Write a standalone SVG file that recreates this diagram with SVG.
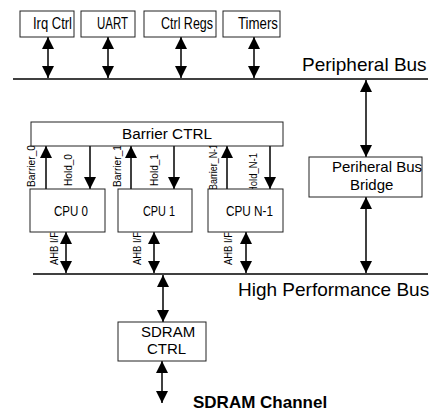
<svg xmlns="http://www.w3.org/2000/svg" width="434" height="413" viewBox="0 0 434 413">
<style>
.box{fill:#fff;stroke:#222;stroke-width:1}
.t{font-family:"Liberation Sans",Arial,sans-serif;fill:#000}
.bus{stroke:#000;stroke-width:1.5;fill:none}
.ar{stroke:#000;stroke-width:1.5;fill:none}
.da{marker-start:url(#ah);marker-end:url(#ah)}
.ea{marker-end:url(#ah)}
</style>
<defs>
<marker id="ah" markerUnits="userSpaceOnUse" markerWidth="12" markerHeight="12" refX="12" refY="6" orient="auto-start-reverse">
<path d="M0,0 L12,6 L0,12 z" fill="#000"/>
</marker>
</defs>
<rect width="434" height="413" fill="#fff"/>
<g id="connectors">
<line class="bus" x1="13" y1="79" x2="428" y2="79"/>
<line class="bus" x1="33" y1="274" x2="428" y2="274"/>
<line class="ar da" x1="48" y1="37" x2="48" y2="78"/>
<line class="ar da" x1="108" y1="37" x2="108" y2="78"/>
<line class="ar da" x1="181" y1="37" x2="181" y2="78"/>
<line class="ar da" x1="254" y1="37" x2="254" y2="78"/>
<line class="ar da" x1="366" y1="80" x2="366" y2="157"/>
<line class="ar da" x1="366" y1="197" x2="366" y2="273"/>
<line class="ar ea" x1="46" y1="189" x2="46" y2="146"/>
<line class="ar ea" x1="90" y1="146" x2="90" y2="189"/>
<line class="ar ea" x1="131" y1="189" x2="131" y2="146"/>
<line class="ar ea" x1="174" y1="146" x2="174" y2="189"/>
<line class="ar ea" x1="227" y1="189" x2="227" y2="146"/>
<line class="ar ea" x1="270" y1="146" x2="270" y2="189"/>
<line class="ar da" x1="66" y1="232" x2="66" y2="273"/>
<line class="ar da" x1="154" y1="232" x2="154" y2="273"/>
<line class="ar da" x1="246" y1="232" x2="246" y2="273"/>
<line class="ar da" x1="163" y1="275" x2="163" y2="322"/>
<line class="ar da" x1="162" y1="361" x2="162" y2="403"/>
<text class="t" font-size="10" transform="translate(35,187) rotate(-90)" textLength="42" lengthAdjust="spacingAndGlyphs">Barrier_0</text>
<text class="t" font-size="10" transform="translate(72,186) rotate(-90)" textLength="32" lengthAdjust="spacingAndGlyphs">Hold_0</text>
<text class="t" font-size="10" transform="translate(121,187) rotate(-90)" textLength="42" lengthAdjust="spacingAndGlyphs">Barrier_1</text>
<text class="t" font-size="10" transform="translate(158,186) rotate(-90)" textLength="32" lengthAdjust="spacingAndGlyphs">Hold_1</text>
<text class="t" font-size="10" transform="translate(217,190) rotate(-90)" textLength="46" lengthAdjust="spacingAndGlyphs">Barrier_N-1</text>
<text class="t" font-size="10" transform="translate(257,193) rotate(-90)" textLength="40" lengthAdjust="spacingAndGlyphs">Hold_N-1</text>
<text class="t" font-size="10" transform="translate(58,265) rotate(-90)" textLength="33" lengthAdjust="spacingAndGlyphs">AHB I/F</text>
<text class="t" font-size="10" transform="translate(141,265) rotate(-90)" textLength="33" lengthAdjust="spacingAndGlyphs">AHB I/F</text>
<text class="t" font-size="10" transform="translate(232,265) rotate(-90)" textLength="33" lengthAdjust="spacingAndGlyphs">AHB I/F</text>
<text class="t" font-size="19" x="302" y="71">Peripheral Bus</text>
<text class="t" font-size="19" x="238" y="296">High Performance Bus</text>
<text class="t" font-size="17" font-weight="bold" x="193" y="408">SDRAM Channel</text>
</g>
<g id="irq"><rect class="box" x="20" y="11" width="54" height="26"/><text class="t" font-size="16" x="33" y="29" textLength="39" lengthAdjust="spacingAndGlyphs">Irq Ctrl</text></g>
<g id="uart"><rect class="box" x="81" y="11" width="54" height="26"/><text class="t" font-size="16" x="97" y="29" textLength="31" lengthAdjust="spacingAndGlyphs">UART</text></g>
<g id="ctrlregs"><rect class="box" x="144" y="11" width="72" height="26"/><text class="t" font-size="16" x="161" y="29" textLength="52" lengthAdjust="spacingAndGlyphs">Ctrl Regs</text></g>
<g id="timers"><rect class="box" x="223" y="11" width="57" height="26"/><text class="t" font-size="16" x="238" y="29" textLength="40" lengthAdjust="spacingAndGlyphs">Timers</text></g>
<g id="barrier"><rect class="box" x="31" y="122" width="252" height="24"/><text class="t" font-size="15.5" x="122" y="139" textLength="90" lengthAdjust="spacingAndGlyphs">Barrier CTRL</text></g>
<g id="cpu0"><rect class="box" x="30" y="189" width="75" height="43"/><text class="t" font-size="14" x="54" y="216" textLength="34" lengthAdjust="spacingAndGlyphs">CPU 0</text></g>
<g id="cpu1"><rect class="box" x="118" y="189" width="74" height="43"/><text class="t" font-size="14" x="143" y="216" textLength="32" lengthAdjust="spacingAndGlyphs">CPU 1</text></g>
<g id="cpun"><rect class="box" x="208" y="189" width="75" height="43"/><text class="t" font-size="14" x="226" y="216" textLength="47" lengthAdjust="spacingAndGlyphs">CPU N-1</text></g>
<g id="bridge"><rect class="box" x="309" y="157" width="113" height="40"/><text class="t" font-size="15" x="332" y="172">Periheral Bus</text><text class="t" font-size="15" x="350" y="190">Bridge</text></g>
<g id="sdram"><rect class="box" x="118" y="322" width="88" height="39"/><text class="t" font-size="15" x="141" y="337">SDRAM</text><text class="t" font-size="15" x="147" y="354">CTRL</text></g>
</svg>
